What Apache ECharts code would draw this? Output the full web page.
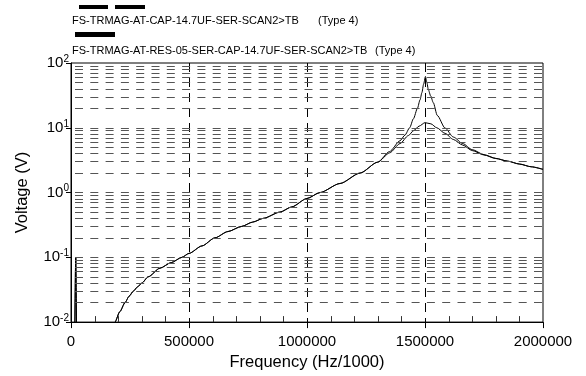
<!DOCTYPE html>
<html>
<head>
<meta charset="utf-8">
<script src="https://cdn.jsdelivr.net/npm/echarts@6/dist/echarts.min.js"></script>
<style>
  html, body { margin: 0; padding: 0; background: #fff; }
  #chart { width: 586px; height: 376px; }
</style>
</head>
<body>
<div id="chart"></div>
<script>
// Frequency response shared by both circuits below the resonance (Hz/1000, V)
const freqCommon = [14000, 20000, 26000, 150000, 186000, 207000, 229000, 246000, 264000, 282000, 300000,
  327000, 377000, 425000, 470000, 500000, 555000, 610000, 665000, 723000, 770000, 815000, 886000,
  935000, 1000000, 1055000, 1140000, 1225000, 1300000];
const voltCommon = [0.001, 0.1, 0.001, 0.003, 0.01, 0.0145, 0.02, 0.025, 0.03, 0.035, 0.04,
  0.05, 0.068, 0.083, 0.1, 0.115, 0.15, 0.2, 0.25, 0.3, 0.35, 0.4, 0.5,
  0.6, 0.81, 1.0, 1.38, 2.0, 2.95];

// Capacitor only: sharp resonance peak
const freqCap = [1350000, 1394000, 1415000, 1435000, 1451000, 1468000, 1479000, 1487000, 1494000,
  1502000, 1508000, 1514000, 1524000, 1535000, 1552000, 1585000, 1620000, 1660000, 1700000,
  1750000, 1800000, 1850000, 1900000, 1950000, 2000000];
const voltCap = [4.3, 6.3, 7.7, 10.0, 13.8, 20, 27, 35, 47,
  62, 50, 39, 31, 24.5, 15.5, 9.9, 7.2, 5.7, 4.6,
  3.85, 3.37, 3.06, 2.76, 2.5, 2.28];

// 0.5 ohm resistor in series: damped peak
const freqRes = [1350000, 1394000, 1430000, 1451000, 1475000, 1500000, 1525000, 1550000, 1585000,
  1620000, 1660000, 1700000, 1750000, 1800000, 1850000, 1900000, 1950000, 2000000];
const voltRes = [4.1, 5.7, 7.6, 9.0, 10.6, 12.0, 11.5, 10.0, 8.2,
  6.6, 5.4, 4.45, 3.8, 3.35, 3.05, 2.75, 2.5, 2.28];

const seriesNames = [
  'FS-TRMAG-AT-CAP-14.7UF-SER-SCAN2>TB',
  'FS-TRMAG-AT-RES-05-SER-CAP-14.7UF-SER-SCAN2>TB'
];
const seriesTag = '(Type 4)';

const xTicks = [0, 500000, 1000000, 1500000, 2000000];
const xMinorTicks = [100000, 200000, 300000, 400000, 600000, 700000, 800000, 900000,
  1100000, 1200000, 1300000, 1400000, 1600000, 1700000, 1800000, 1900000];
const yDecades = [0.01, 0.1, 1, 10, 100];
const gridMultipliers = [1, 2, 3, 4, 5, 6, 7, 8, 9];

const FONT = '"Liberation Sans", Arial, sans-serif';

function pairs(fx, fy) { return fx.map((f, i) => [f, fy[i]]); }
const capData = pairs(freqCommon, voltCommon).concat(pairs(freqCap, voltCap));
const resData = pairs(freqCommon, voltCommon).concat(pairs(freqRes, voltRes));

// horizontal dashed levels for every 1..9 step inside each decade
const gridLevels = [];
yDecades.slice(0, -1).forEach((d, k) => {
  gridMultipliers.forEach(m => {
    if (k === 0 && m === 1) return;
    gridLevels.push(+(d * m).toPrecision(3));
  });
});

const chart = echarts.init(document.getElementById('chart'), null, { renderer: 'canvas' });

chart.setOption({
  animation: false,
  backgroundColor: '#fff',
  textStyle: { fontFamily: FONT, color: '#000' },
  grid: {
    left: 71, right: 43, top: 63, bottom: 48,
    show: true, borderColor: '#000', borderWidth: 1, backgroundColor: 'transparent'
  },
  graphic: [
    { type: 'rect', shape: { x: 79, y: 5, width: 29, height: 4 }, style: { fill: '#000' } },
    { type: 'rect', shape: { x: 115, y: 5, width: 30, height: 4 }, style: { fill: '#000' } },
    { type: 'text', left: 72, top: 15, style: { text: seriesNames[0], font: '11px ' + FONT, fill: '#000' } },
    { type: 'text', left: 318, top: 15, style: { text: seriesTag, font: '11px ' + FONT, fill: '#000' } },
    { type: 'rect', shape: { x: 75, y: 32, width: 40, height: 5 }, style: { fill: '#000' } },
    { type: 'text', left: 72, top: 45, style: { text: seriesNames[1], font: '11px ' + FONT, fill: '#000' } },
    { type: 'text', left: 375, top: 45, style: { text: seriesTag, font: '11px ' + FONT, fill: '#000' } }
  ],
  xAxis: {
    type: 'value', min: xTicks[0], max: xTicks[xTicks.length - 1], interval: 500000,
    name: 'Frequency (Hz/1000)', nameLocation: 'middle', nameGap: 30,
    nameTextStyle: { fontSize: 16.5, fontFamily: FONT, color: '#000' },
    axisLine: { show: true, onZero: false, lineStyle: { color: '#000', width: 1 } },
    axisTick: { show: true, inside: false, length: 6, lineStyle: { color: '#000' } },
    axisLabel: { fontSize: 15, fontFamily: FONT, color: '#000', margin: 12, formatter: v => String(v) },
    splitLine: {
      show: true, showMinLine: false, showMaxLine: false,
      lineStyle: { color: '#000', width: 1, type: [9, 6] }
    }
  },
  yAxis: {
    type: 'log', logBase: 10, min: 0.01, max: 100,
    name: 'Voltage (V)', nameLocation: 'middle', nameGap: 40,
    nameTextStyle: { fontSize: 16.5, fontFamily: FONT, color: '#000' },
    axisLine: { show: true, onZero: false, lineStyle: { color: '#000', width: 1 } },
    axisTick: { show: true, inside: false, length: 5, lineStyle: { color: '#000' } },
    minorTick: { show: false },
    splitLine: { show: false },
    axisLabel: {
      margin: 2,
      formatter: v => '{b|10}{s|' + Math.round(Math.log10(v)) + '}',
      rich: {
        b: { fontSize: 15, fontFamily: FONT, color: '#000' },
        s: { fontSize: 10, fontFamily: FONT, color: '#000', padding: [0, 0, 8, 0] }
      }
    }
  },
  series: [
    {
      type: 'line', name: 'grid', data: [], silent: true, z: 1,
      markLine: {
        silent: true, symbol: 'none', animation: false,
        label: { show: false },
        lineStyle: { color: '#555', width: 1, type: [8, 7.3], dashOffset: 11.3 },
        data: gridLevels.map(v => ({ yAxis: v }))
      }
    },
    {
      // short inward ticks on the frequency axis every 100000
      type: 'custom', name: 'minor ticks', silent: true, z: 2,
      data: xMinorTicks.map(f => [f, yDecades[0]]),
      renderItem: (params, api) => {
        const p = api.coord([api.value(0), api.value(1)]);
        const x = Math.round(p[0]) + 0.5;
        return {
          type: 'line',
          shape: { x1: x, y1: p[1], x2: x, y2: p[1] - 6 },
          style: { stroke: '#333', lineWidth: 1 }
        };
      }
    },
    {
      type: 'line', name: seriesNames[0], data: capData, showSymbol: false, z: 3,
      smooth: 0.25, smoothMonotone: 'x', clip: true,
      lineStyle: { color: '#000', width: 1 }
    },
    {
      type: 'line', name: seriesNames[1], data: resData, showSymbol: false, z: 3,
      smooth: 0.25, smoothMonotone: 'x', clip: true,
      lineStyle: { color: '#000', width: 1 }
    }
  ]
});
</script>
</body>
</html>
